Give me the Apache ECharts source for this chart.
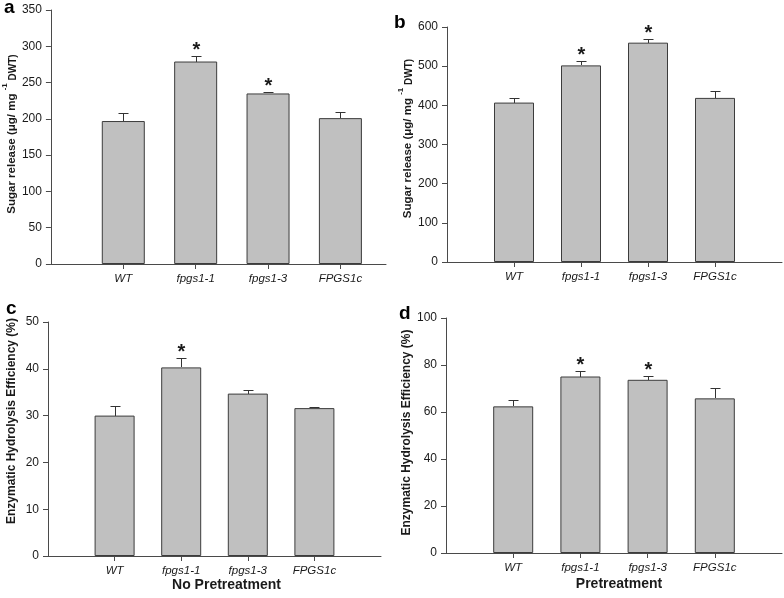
<!DOCTYPE html>
<html>
<head>
<meta charset="utf-8">
<script src="https://cdn.jsdelivr.net/npm/echarts@6/dist/echarts.min.js"></script>
<style>
html,body{margin:0;padding:0;background:#fff;}
#main{width:784px;height:598px;}
</style>
</head>
<body>
<div id="main"></div>
<script>
// ---- data ----
const categories = ['WT', 'fpgs1-1', 'fpgs1-3', 'FPGS1c'];

const sugarNoPre = [197, 279, 235, 201];
const sugarNoPreErr = [11, 8, 1.5, 9];
const sugarNoPreSig = [0, 1, 1, 0];

const sugarPre = [407, 502, 560, 419];
const sugarPreErr = [11, 10, 8.5, 17];
const sugarPreSig = [0, 1, 1, 0];

const hydNoPre = [30.0, 40.3, 34.7, 31.6];
const hydNoPreErr = [2.1, 2.0, 0.8, 0.2];
const hydNoPreSig = [0, 1, 0, 0];

const hydPre = [62.4, 75.1, 73.7, 65.8];
const hydPreErr = [2.9, 2.2, 1.8, 4.5];
const hydPreSig = [0, 1, 1, 0];

const panelLetters = ['a', 'b', 'c', 'd'];
const sugarTitle = '{m|Sugar release (\u03bcg/ mg }{s|-1}{d| DWT)}';
const hydTitle = 'Enzymatic Hydrolysis Efficiency (%)';
const xTitleC = 'No Pretreatment';
const xTitleD = 'Pretreatment';

// ---- chart ----
const FONT = 'Liberation Sans, Arial, Helvetica, sans-serif';
const TXT = '#1a1a1a';
const AX = '#4a4a4a';

const grids = [
  {left: 49, top: 10, width: 337, height: 254},
  {left: 447, top: 27, width: 335, height: 235},
  {left: 48, top: 322, width: 333, height: 234},
  {left: 446, top: 318, width: 336, height: 235}
];
const xMax = [4.63, 5, 5, 5];
const yCfg = [
  {max: 350, interval: 50},
  {max: 600, interval: 100},
  {max: 50, interval: 10},
  {max: 100, interval: 20}
];
const barW = [43, 40, 40, 40];
const values = [sugarNoPre, sugarPre, hydNoPre, hydPre];
const errs = [sugarNoPreErr, sugarPreErr, hydNoPreErr, hydPreErr];
const sigs = [sugarNoPreSig, sugarPreSig, hydNoPreSig, hydPreSig];
const yNames = [sugarTitle, sugarTitle, hydTitle, hydTitle];
const yNameGap = [29, 30, 30, 26];
const yNameShift = [3, 6, 18, 3];
const xNames = ['', '', xTitleC, xTitleD];
const xNameShift = [0, 0, 12, 5];
const xNameGap = [20, 20, 19, 24];

const richY = {
  m: {fontFamily: FONT, fontWeight: 'bold', fontSize: 11.5, color: TXT, lineHeight: 17, verticalAlign: 'bottom'},
  s: {fontFamily: FONT, fontWeight: 'bold', fontSize: 8, color: TXT, lineHeight: 17, verticalAlign: 'top'},
  d: {fontFamily: FONT, fontWeight: 'bold', fontSize: 10, color: TXT, lineHeight: 17, verticalAlign: 'bottom'}
};

const xAxes = [], yAxes = [], series = [];
for (let k = 0; k < 4; k++) {
  xAxes.push({
    type: 'value', gridIndex: k, min: 0, max: xMax[k], interval: 1,
    axisLine: {show: true, lineStyle: {color: AX, width: 1}},
    axisTick: {show: true, length: 5, customValues: [1, 2, 3, 4], lineStyle: {color: AX}},
    splitLine: {show: false},
    axisLabel: {
      customValues: [1, 2, 3, 4], margin: 9,
      formatter: v => categories[Math.round(v) - 1] || '',
      fontFamily: FONT, fontSize: 11.5, fontStyle: 'italic', color: TXT
    },
    name: xNames[k], nameLocation: 'middle', nameGap: xNameGap[k],
    nameTextStyle: {fontFamily: FONT, fontWeight: 'bold', fontSize: 14, color: TXT,
      padding: [0, 0, 0, 2 * xNameShift[k]]}
  });
  yAxes.push({
    type: 'value', gridIndex: k, min: 0, max: yCfg[k].max, interval: yCfg[k].interval,
    axisLine: {show: true, lineStyle: {color: AX, width: 1}},
    axisTick: {show: true, length: 5, lineStyle: {color: AX}},
    splitLine: {show: false},
    axisLabel: {margin: 9, fontFamily: FONT, fontSize: 12, color: TXT},
    name: yNames[k], nameLocation: 'middle', nameGap: yNameGap[k],
    nameTextStyle: k < 2 ? {rich: richY, padding: [0, 0, 0, 2 * yNameShift[k]]}
      : {fontFamily: FONT, fontWeight: 'bold', fontSize: 12, color: TXT, padding: [0, 0, 0, 2 * yNameShift[k]]}
  });
  const vals = values[k], er = errs[k], sg = sigs[k];
  series.push({
    type: 'bar', xAxisIndex: k, yAxisIndex: k, barWidth: barW[k],
    itemStyle: {color: '#c0c0c0', borderColor: '#3c3c3c', borderWidth: 1},
    data: vals.map((v, i) => [i + 1, v]),
    silent: true
  });
  series.push({
    type: 'custom', xAxisIndex: k, yAxisIndex: k, silent: true,
    data: vals.map((v, i) => [i + 1, v, v + er[i], sg[i]]),
    renderItem: function (params, api) {
      const x = api.value(0);
      const p0 = api.coord([x, api.value(1)]);
      const p1 = api.coord([x, api.value(2)]);
      const cx = Math.round(p0[0]) + 0.5;
      const yb = Math.round(p0[1]);
      const yt = Math.round(p1[1]) + 0.5;
      const ch = [
        {type: 'line', shape: {x1: cx, y1: yb, x2: cx, y2: yt}, style: {stroke: '#333', lineWidth: 1}},
        {type: 'line', shape: {x1: cx - 5, y1: yt, x2: cx + 5, y2: yt}, style: {stroke: '#333', lineWidth: 1}}
      ];
      if (api.value(3)) {
        ch.push({type: 'text', x: cx, y: yt - 6,
          style: {text: '*', fill: TXT, font: 'bold 20px ' + FONT, align: 'center', verticalAlign: 'middle'}});
      }
      return {type: 'group', children: ch};
    }
  });
}

const letterPos = [[4, -2], [394, 13], [6, 299], [399, 304]];
const graphic = panelLetters.map((t, i) => ({
  type: 'text', left: letterPos[i][0], top: letterPos[i][1],
  style: {text: t, font: 'bold 19px ' + FONT, fill: '#000'}
}));

const chart = echarts.init(document.getElementById('main'), null, {renderer: 'canvas'});
chart.setOption({
  animation: false,
  backgroundColor: '#fff',
  grid: grids,
  xAxis: xAxes,
  yAxis: yAxes,
  series: series,
  graphic: graphic
});
</script>
</body>
</html>
